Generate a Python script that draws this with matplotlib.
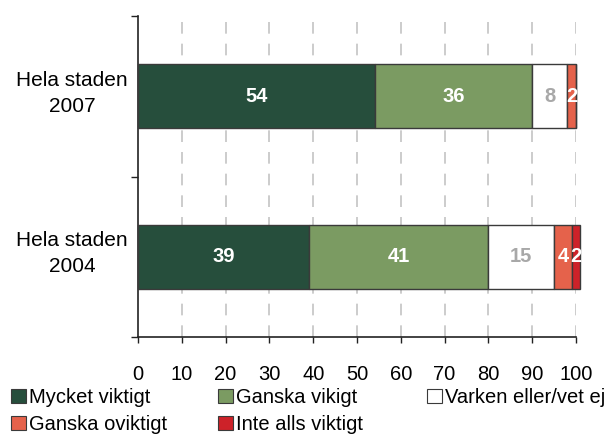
import matplotlib
matplotlib.use("Agg")
import matplotlib.pyplot as plt
from matplotlib.patches import Patch
from matplotlib.transforms import ScaledTranslation
import numpy as np

plt.rcParams['font.family'] = ['Liberation Sans', 'DejaVu Sans']

categories = ["Hela staden\n2004", "Hela staden\n2007"]
series_names = ["Mycket viktigt", "Ganska vikigt", "Varken eller/vet ej",
                "Ganska oviktigt", "Inte alls viktigt"]
values = {
    "Mycket viktigt":      [39, 54],
    "Ganska vikigt":       [41, 36],
    "Varken eller/vet ej": [15, 8],
    "Ganska oviktigt":     [4, 2],
    "Inte alls viktigt":   [2, 0],
}
colors = ["#264e3c", "#7b9b62", "#ffffff", "#e5624b", "#cd2229"]
label_colors = ["white", "white", "#a8a8a8", "white", "white"]
xticks = [0, 10, 20, 30, 40, 50, 60, 70, 80, 90, 100]

fig = plt.figure(figsize=(6.16, 4.34), dpi=100)
ax = fig.add_axes([138/616, 1-337/434, (576-138)/616, (337-16)/434])

ypos = np.array([0.5, 1.5])
left = np.zeros(len(categories))
handles = {}
for name, col, lcol in zip(series_names, colors, label_colors):
    v = np.array(values[name], dtype=float)
    bars = ax.barh(ypos, v, left=left, height=0.4, color=col,
                   edgecolor="#3a3a3a", linewidth=1.0, zorder=3, clip_on=False)
    for b, val, l in zip(bars, v, left):
        if val > 0:
            ax.text(l + val/2, b.get_y() + b.get_height()/2, f"{int(val)}",
                    ha="center", va="center", color=lcol, fontsize=14.5,
                    fontweight="bold", zorder=4, clip_on=False)
    handles[name] = Patch(facecolor=col, edgecolor="#3a3a3a", linewidth=0.8)
    left = left + v

ax.set_xlim(0, 100)
ax.set_ylim(0, 2)
ax.set_xticks(xticks)
ax.set_xticklabels([str(t) for t in xticks])
ax.tick_params(axis="x", direction="out", length=4.5, width=1.0, pad=15.5,
               labelsize=14.5, color="#222222")

# category labels (centered, two lines) placed left of the axis
ax.set_yticks([0, 1, 2])
ax.set_yticklabels([])
ax.tick_params(axis="y", direction="out", length=5, width=1.0, color="#222222")
label_tr = ax.get_yaxis_transform() + ScaledTranslation(-0.66, 0.03, fig.dpi_scale_trans)
for y, cat in zip(ypos, categories):
    ax.text(0, y, cat, transform=label_tr, ha="center", va="center",
            multialignment="center", fontsize=15, linespacing=1.5)

for s in ["top", "right"]:
    ax.spines[s].set_visible(False)
for s in ["left", "bottom"]:
    ax.spines[s].set_color("#222222")
    ax.spines[s].set_linewidth(1.2)

for t in xticks[1:]:
    ax.axvline(t, color="#c4c4c4", linewidth=1.2, linestyle=(0, (7, 6)), zorder=1)

columns = [["Mycket viktigt", "Ganska oviktigt"],
           ["Ganska vikigt", "Inte alls viktigt"],
           ["Varken eller/vet ej"]]
col_x = [11, 218, 427]
for names, x in zip(columns, col_x):
    fig.legend([handles[n] for n in names], names, loc="upper left",
               bbox_to_anchor=(x/616, 1-388/434), frameon=False,
               fontsize=14.5, handlelength=0.75, handleheight=0.75,
               handletextpad=0.15, borderpad=0, borderaxespad=0,
               labelspacing=0.4)

fig.savefig("out.png", dpi=100)
